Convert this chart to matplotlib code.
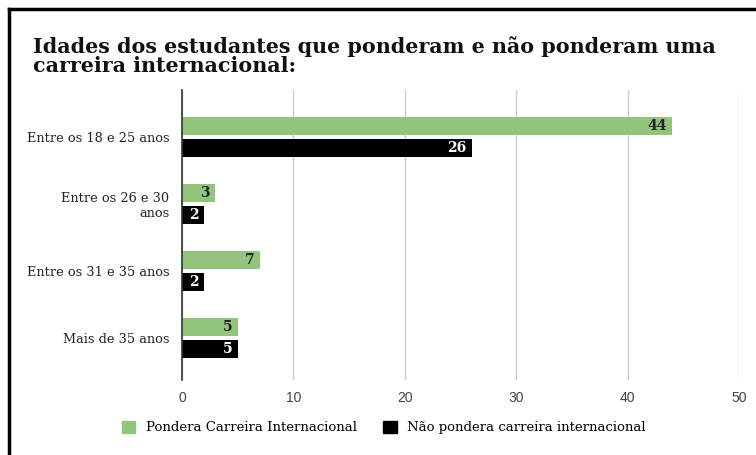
import matplotlib
matplotlib.use("Agg")
import matplotlib.pyplot as plt
import numpy as np
from matplotlib.lines import Line2D
from matplotlib.patches import Patch

# dados
categorias = ["Entre os 18 e 25 anos", "Entre os 26 e 30\nanos",
              "Entre os 31 e 35 anos", "Mais de 35 anos"]
pondera = [44, 3, 7, 5]
nao_pondera = [26, 2, 2, 5]
ticks_x = [0, 10, 20, 30, 40, 50]

verde = "#93c47d"
preto = "#000000"
serif = "DejaVu Serif"

fig = plt.figure(figsize=(7.56, 4.55), dpi=100)
ax = fig.add_axes([0.2407, 0.1648, 0.7368, 0.6374])

y = np.arange(len(categorias))
h = 0.27
off = 0.164
ax.barh(y - off, pondera, height=h, color=verde, zorder=3)
ax.barh(y + off, nao_pondera, height=h, color=preto, zorder=3)

# rótulos de valor dentro das barras
for i, v in enumerate(pondera):
    ax.text(v - 0.5, i - off, str(v), ha="right", va="center", fontsize=10,
            fontweight="bold", family=serif, color="#222222", zorder=4)
for i, v in enumerate(nao_pondera):
    ax.text(v - 0.5, i + off, str(v), ha="right", va="center", fontsize=10,
            fontweight="bold", family=serif, color="white", zorder=4)

ax.set_xlim(0, 50)
ax.set_ylim(3.63, -0.70)
ax.set_xticks(ticks_x)
ax.set_xticklabels([str(t) for t in ticks_x], family="Liberation Sans",
                   fontsize=10, color="#444444")
ax.set_yticks(y)
ax.set_yticklabels(categorias, family=serif, fontsize=9.3, color="#222222")
ax.tick_params(axis="y", length=0, pad=9)
ax.tick_params(axis="x", length=0, pad=8)
ax.grid(axis="x", color="#cccccc", linewidth=1, zorder=0)
for s in ["top", "right", "bottom"]:
    ax.spines[s].set_visible(False)
ax.spines["left"].set_color("#333333")
ax.spines["left"].set_linewidth(1.2)
ax.spines["left"].set_zorder(5)

fig.text(0.0437, 0.877, "Idades dos estudantes que ponderam e não ponderam uma\ncarreira internacional:",
         family=serif, fontweight="bold", fontsize=14.9, color="#111111",
         ha="left", va="center", linespacing=0.92)

handles = [Patch(color=verde), Patch(color=preto)]
fig.legend(handles, ["Pondera Carreira Internacional", "Não pondera carreira internacional"],
           loc="center", bbox_to_anchor=(0.508, 0.06), ncol=2, frameon=False,
           prop={"family": serif, "size": 9.5}, handlelength=1.0, handleheight=1.0,
           columnspacing=2.0)

# moldura parcial (esquerda e topo)
fig.add_artist(Line2D([0.0119, 0.0119], [0, 0.98], color="black", linewidth=2.5))
fig.add_artist(Line2D([0.0119, 1.0], [0.98, 0.98], color="black", linewidth=2.5))

fig.savefig("out.png", dpi=100)
